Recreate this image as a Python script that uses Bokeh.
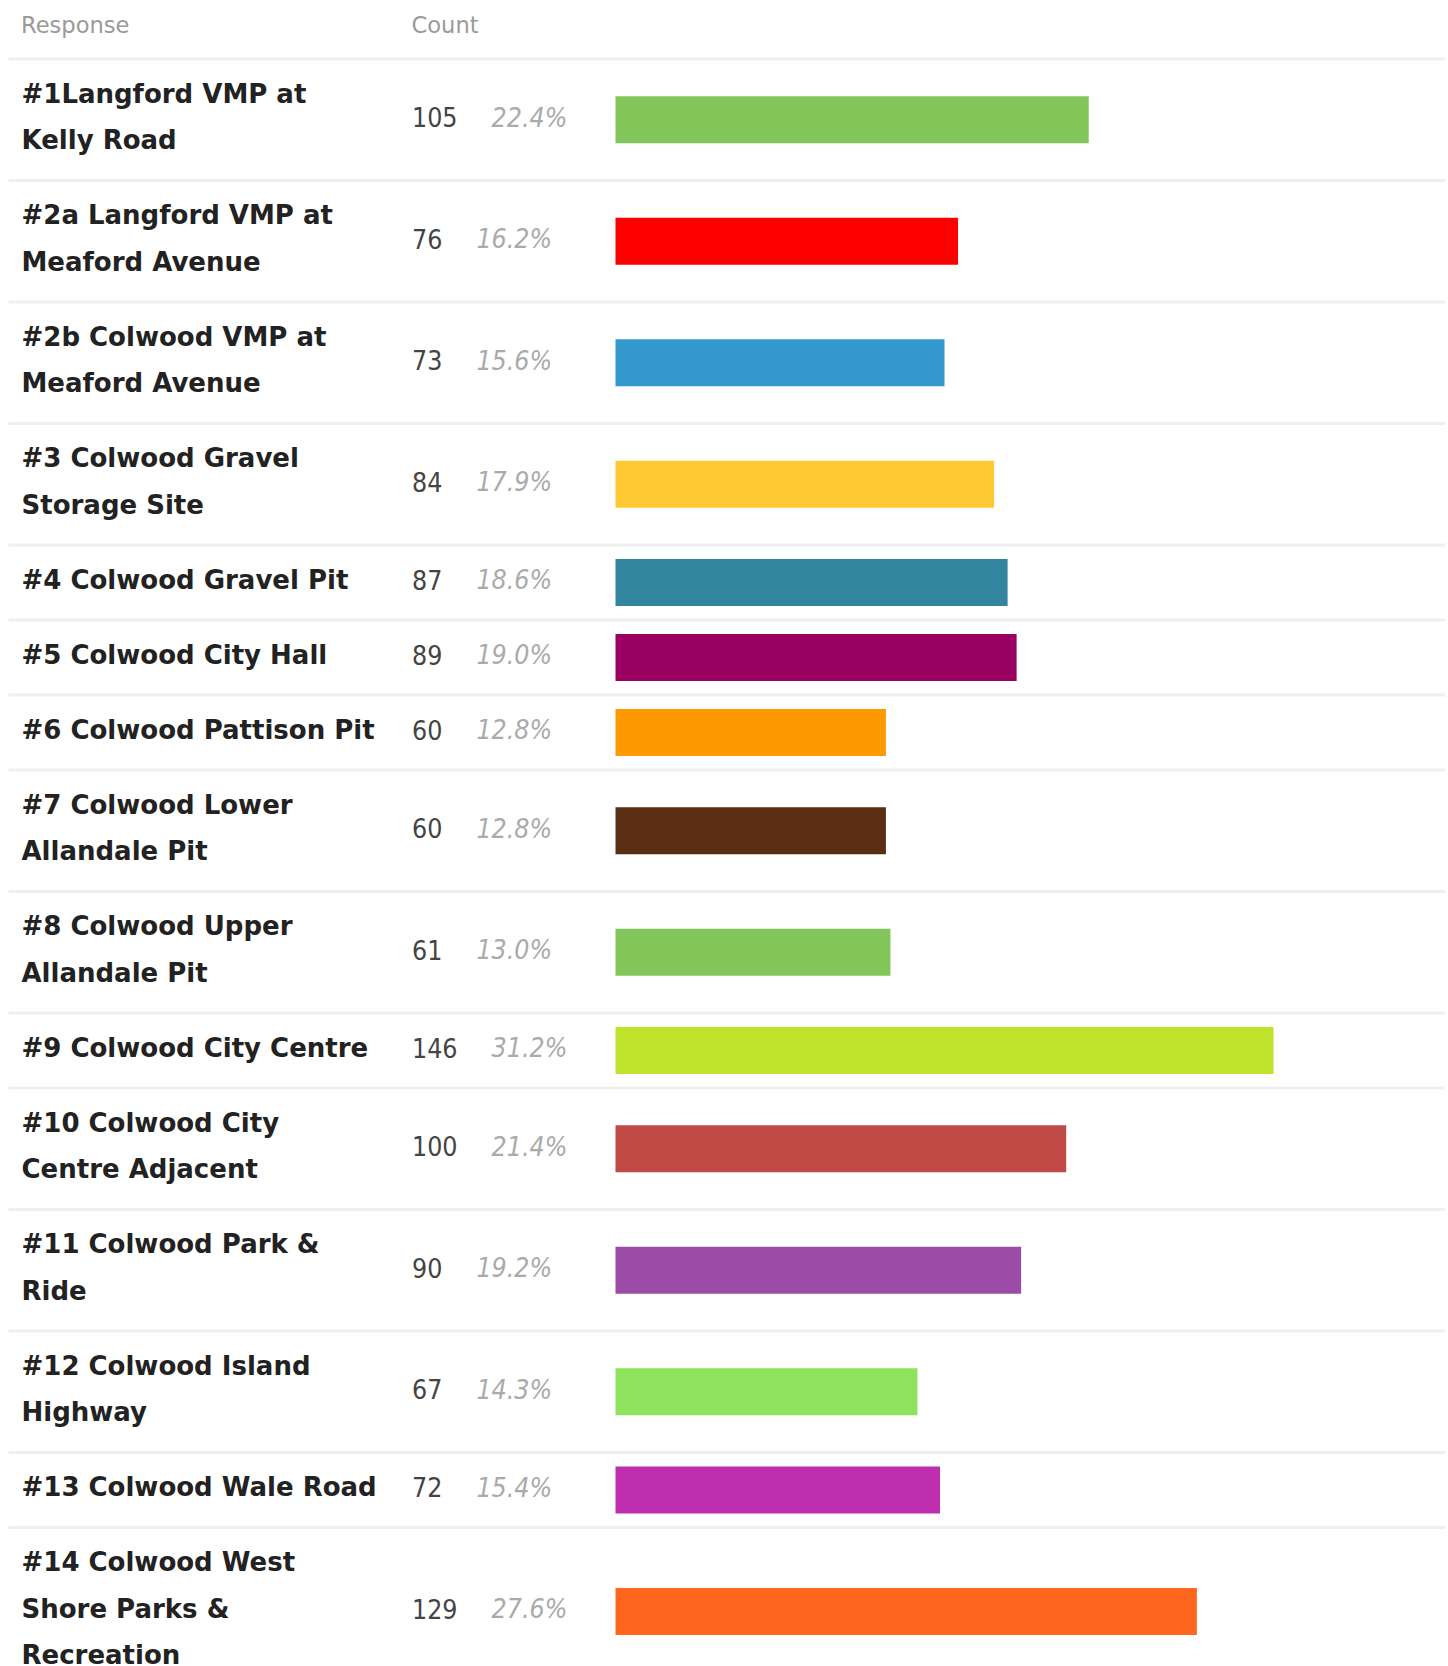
from bokeh.plotting import figure
from bokeh.models import Range1d, ColumnDataSource
from bokeh.core.properties import value
from bokeh.embed import file_html
from bokeh.resources import INLINE

# ---------------- data ----------------
labels = [
    "#1Langford VMP at\nKelly Road",
    "#2a Langford VMP at\nMeaford Avenue",
    "#2b Colwood VMP at\nMeaford Avenue",
    "#3 Colwood Gravel\nStorage Site",
    "#4 Colwood Gravel Pit",
    "#5 Colwood City Hall",
    "#6 Colwood Pattison Pit",
    "#7 Colwood Lower\nAllandale Pit",
    "#8 Colwood Upper\nAllandale Pit",
    "#9 Colwood City Centre",
    "#10 Colwood City\nCentre Adjacent",
    "#11 Colwood Park &\nRide",
    "#12 Colwood Island\nHighway",
    "#13 Colwood Wale Road",
    "#14 Colwood West\nShore Parks &\nRecreation",
]
counts = [105, 76, 73, 84, 87, 89, 60, 60, 61, 146, 100, 90, 67, 72, 129]
percents = ["22.4%", "16.2%", "15.6%", "17.9%", "18.6%", "19.0%", "12.8%", "12.8%",
            "13.0%", "31.2%", "21.4%", "19.2%", "14.3%", "15.4%", "27.6%"]
bar_colors = ["#82c65a", "#ff0000", "#3399cc", "#fdc932", "#33869e", "#990060",
              "#ff9900", "#5a2e13", "#82c65a", "#c0e32d", "#c04a46", "#9c4ba6",
              "#8ee35d", "#c02eb0", "#ff661e"]
headers = ["Response", "Count"]

# ---------------- layout constants ----------------
W, H = 1445, 1666
FONT_C = "DejaVu Sans Condensed"
FONT = "DejaVu Sans"
LINE_STEP = 46.5
SINGLE_ROW = 75
SEP_H = 3
SEP_X0 = 8
BAR_X0 = 615
PX_PER_COUNT = 4.507
DIGIT_W = 15.2

p = figure(width=W, height=H, x_range=Range1d(0, W), y_range=Range1d(H, 0),
           output_backend="svg", toolbar_location=None, min_border=0)
p.xaxis.visible = False
p.yaxis.visible = False
p.grid.visible = False
p.outline_line_color = None
p.background_fill_color = "white"
p.border_fill_color = "white"
p.extra_x_ranges = {"count": Range1d(-BAR_X0 / PX_PER_COUNT, (W - BAR_X0) / PX_PER_COUNT)}

# rows
nl = [len(l.split("\n")) for l in labels]
heights = [SINGLE_ROW + LINE_STEP * (n - 1) for n in nl]
top = 57.0
sep_y = [top + SEP_H / 2]
centers = []
for h in heights:
    centers.append(top + 1.5 + h / 2)
    top += h
    sep_y.append(top + SEP_H / 2)

# separators
p.hbar(y=sep_y, left=SEP_X0, right=W, height=SEP_H, fill_color="#efefef", line_color=None)

# header
p.text(x=[20.5, 411], y=[24.2, 24.2], text=headers, text_font=value(FONT),
       text_font_size="22.6px", text_color="#9a9a9a", text_baseline="alphabetic")

# labels
lx, ly, lt = [], [], []
for lab, c in zip(labels, centers):
    parts = lab.split("\n")
    n = len(parts)
    for k, part in enumerate(parts):
        lx.append(21)
        ly.append(c + (k - (n - 1) / 2) * LINE_STEP - 3.0)
        lt.append(part)
p.text(x=lx, y=ly, text=lt, text_font=value(FONT), text_font_style="bold",
       text_font_size="26px", text_color="#222222", text_baseline="alphabetic")

# counts
cnt_src = ColumnDataSource(dict(x=[411.5] * len(counts), y=[c - 2.6 for c in centers],
                                t=[str(v) for v in counts]))
p.text(x="x", y="y", text="t", source=cnt_src, text_font=value(FONT_C),
       text_font_size="26.5px", text_color="#444444", text_baseline="alphabetic")

# percents
pct_src = ColumnDataSource(dict(x=[411.5 + len(str(v)) * DIGIT_W + 34 for v in counts],
                                y=[c - 2.6 for c in centers], t=percents))
p.text(x="x", y="y", text="t", source=pct_src, text_font=value(FONT_C),
       text_font_style="italic", text_font_size="26.5px", text_color="#aaaaaa",
       text_baseline="alphabetic")

# bars
p.hbar(y=centers, left=0, right=counts, height=47, fill_color=bar_colors,
       line_color=None, x_range_name="count")

open("out.html", "w").write(file_html(p, INLINE))
